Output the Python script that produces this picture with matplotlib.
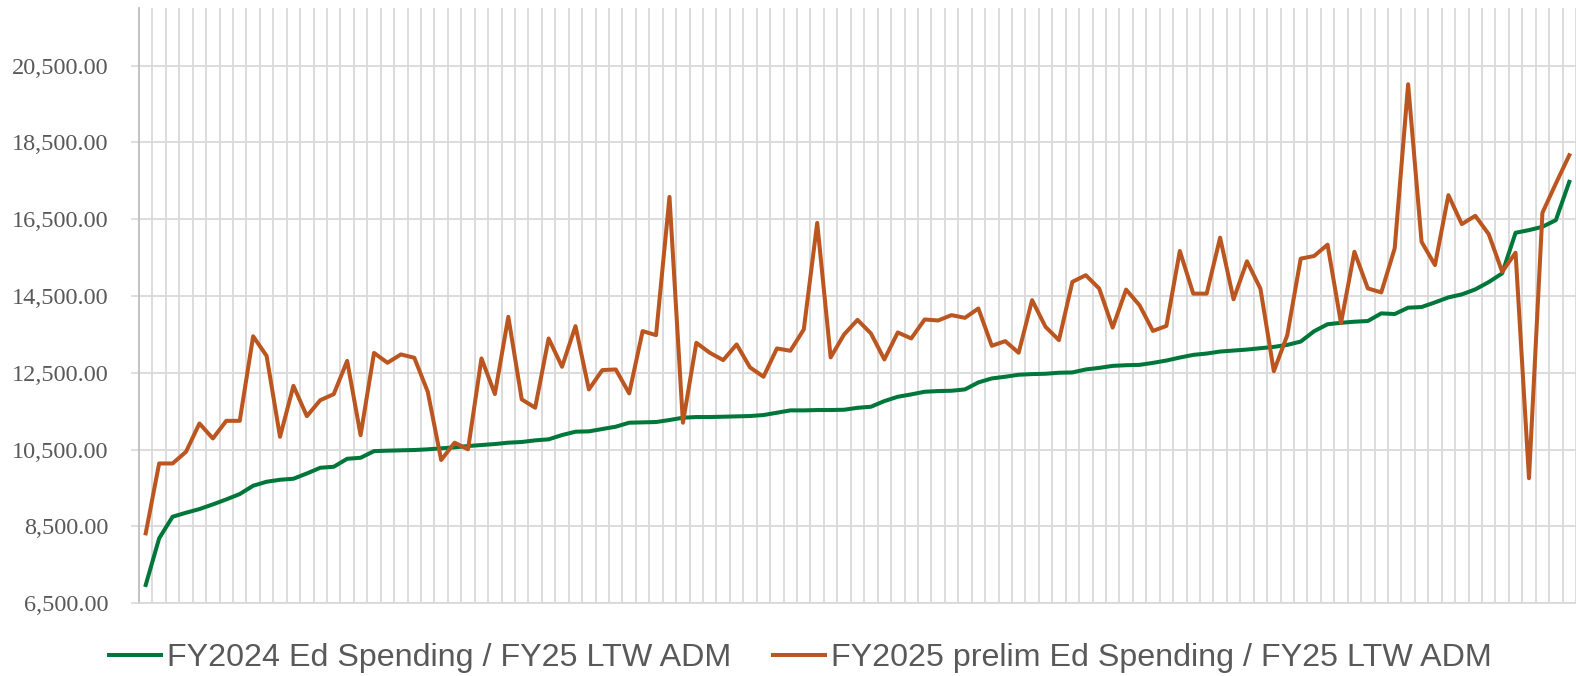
import matplotlib
matplotlib.use("Agg")
import matplotlib.pyplot as plt
import numpy as np

# Per-pupil values, districts sorted by FY2024 spending
fy24_spending = [
    6977, 8191, 8754, 8858, 8954, 9075, 9205, 9344, 9561, 9665,
    9717, 9743, 9881, 10029, 10055, 10263, 10289, 10462, 10474, 10483,
    10491, 10509, 10535, 10561, 10595, 10621, 10647, 10682, 10700, 10743,
    10769, 10881, 10968, 10977, 11038, 11098, 11202, 11211, 11220, 11272,
    11332, 11350, 11350, 11358, 11367, 11376, 11402, 11462, 11523, 11523,
    11532, 11532, 11540, 11590, 11618, 11765, 11878, 11939, 12008, 12026,
    12034, 12069, 12251, 12355, 12399, 12451, 12468, 12477, 12503, 12511,
    12589, 12630, 12682, 12699, 12708, 12760, 12821, 12899, 12968, 13003,
    13055, 13081, 13107, 13142, 13176, 13228, 13315, 13584, 13766, 13803,
    13832, 13850, 14049, 14032, 14197, 14214, 14335, 14465, 14543, 14673,
    14864, 15090, 16147, 16217, 16303, 16477, 17474,
]
fy25_prelim = [
    8321, 10141, 10141, 10445, 11182, 10792, 11251, 11251, 13453, 12942,
    10835, 12162, 11373, 11789, 11945, 12812, 10878, 13020, 12763, 12980,
    12893, 12009, 10231, 10682, 10509, 12876, 11948, 13959, 11809, 11592,
    13396, 12659, 13717, 12069, 12572, 12589, 11965, 13587, 13482, 17081,
    11202, 13283, 13023, 12832, 13240, 12641, 12399, 13136, 13075, 13630,
    16404, 12902, 13500, 13880, 13526, 12850, 13552, 13396, 13890, 13864,
    14003, 13933, 14176, 13205, 13326, 13023, 14393, 13699, 13352, 14870,
    15043, 14695, 13679, 14668, 14260, 13592, 13722, 15673, 14563, 14563,
    16020, 14416, 15404, 14694, 12543, 13480, 15474, 15543, 15838, 13795,
    15653, 14699, 14595, 15740, 20014, 15913, 15306, 17127, 16373, 16589,
    16113, 15133, 15627, 9757, 16668, 17430, 18167,
]
y_ticks = [6500, 8500, 10500, 12500, 14500, 16500, 18500, 20500]

labels = ["FY2024 Ed Spending / FY25 LTW ADM",
          "FY2025 prelim Ed Spending / FY25 LTW ADM"]
green = "#00773A"
orange = "#BC5620"
grid_col = "#d9d9d9"
text_col = "#595959"

x = np.arange(len(fy24_spending))

fig = plt.figure(figsize=(15.76, 6.76), dpi=100)
ax = fig.add_axes([139 / 1576, 72.7 / 676, 1437 / 1576, 595.3 / 676])

l1, = ax.plot(x, fy24_spending, color=green, lw=2.9, solid_joinstyle="round")
l2, = ax.plot(x, fy25_prelim, color=orange, lw=2.9, solid_joinstyle="round")

ax.set_xlim(-0.5, len(x) - 0.5)
ax.set_ylim(6500, 22000)
ax.set_yticks(y_ticks)
ax.set_yticklabels([f"{v:,.2f}" for v in y_ticks], family="Liberation Serif",
                   fontsize=17.5, color=text_col)
ax.set_xticks([])
ax.set_xticks(np.arange(-0.5, len(x), 1), minor=True)
ax.tick_params(axis="x", which="both", length=0)
ax.tick_params(axis="y", length=6, width=1.2, color=grid_col, pad=16)

ax.grid(which="minor", axis="x", color=grid_col, lw=1.3)
ax.grid(which="major", axis="y", color=grid_col, lw=1.3)
ax.set_axisbelow(True)

for s in ["top", "right"]:
    ax.spines[s].set_visible(False)
ax.spines["left"].set_color("#bfbfbf")
ax.spines["left"].set_linewidth(1.3)
ax.spines["bottom"].set_color(grid_col)
ax.spines["bottom"].set_linewidth(1.3)

fig.legend([l1, l2], labels, loc="center", bbox_to_anchor=(0.508, 1 - 658 / 676),
           ncol=2, frameon=False, prop={"family": "Liberation Sans", "size": 23.2},
           labelcolor=text_col, handlelength=1.6, handletextpad=0.2,
           columnspacing=1.3)

fig.savefig("out.png", dpi=100, facecolor="white")
